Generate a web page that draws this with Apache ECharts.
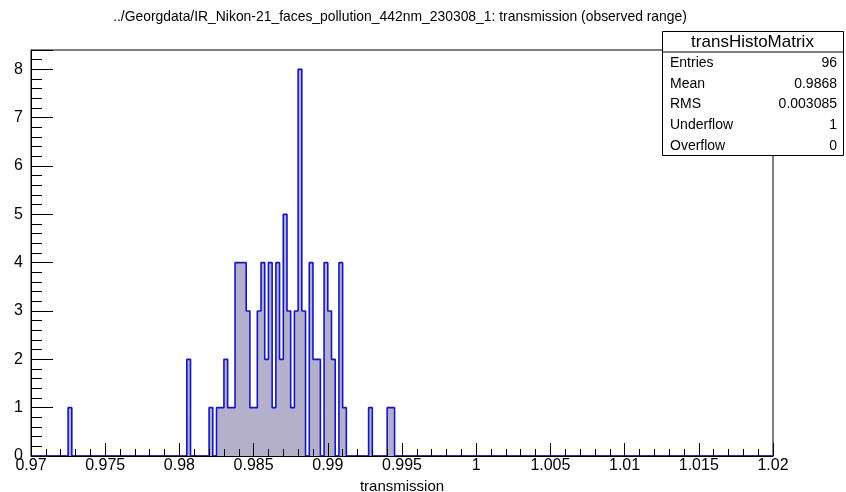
<!DOCTYPE html>
<html>
<head>
<meta charset="utf-8">
<script src="https://cdn.jsdelivr.net/npm/echarts@6/dist/echarts.min.js"></script>
<style>html,body{margin:0;padding:0;background:#fff}#c{width:846px;height:492px}</style>
</head>
<body>
<div id="c"></div>
<script>
// ---- data ----
const xMin = 0.97, xMax = 1.02, nBins = 200;
const filledBins = [10, 42, 48, 50, 51, 52, 53, 54, 55, 56, 57, 58, 59, 60, 61, 62, 63, 64, 65, 66, 67, 68, 69, 70, 71, 72, 73, 75, 76, 77, 79, 80, 81, 83, 84, 91, 96, 97];
const binCounts  = [1,  2,  1,  1,  1,  2,  1,  1,  4,  4,  4,  3,  1,  1,  3,  4,  2,  4,  1,  4,  2,  5,  3,  1,  3,  8,  3,  4,  2,  2,  4,  3,  2,  4,  1,  1,  1,  1];
const xTickLabels = ['0.97','0.975','0.98','0.985','0.99','0.995','1','1.005','1.01','1.015','1.02'];
const yTickLabels = ['0','1','2','3','4','5','6','7','8'];
const titleText = '../Georgdata/IR_Nikon-21_faces_pollution_442nm_230308_1: transmission (observed range)';
const statsName = 'transHistoMatrix';
const statsLabels = ['Entries', 'Mean', 'RMS', 'Underflow', 'Overflow'];
const statsValues = ['96', '0.9868', '0.003085', '1', '0'];

// build step points from bin edges
const counts = new Array(nBins).fill(0);
filledBins.forEach((b, i) => { counts[b] = binCounts[i]; });
const bw = (xMax - xMin) / nBins;
const stepData = [];
for (let i = 0; i < nBins; i++) stepData.push([xMin + i * bw, counts[i]]);
stepData.push([xMax, 0]);

const FONT = '"Liberation Sans", Arial, Helvetica, sans-serif';
const chart = echarts.init(document.getElementById('c'), null, {renderer: 'canvas'});

const boxL = 662, boxT = 31, boxR = 843, boxB = 155, sepY = 51.5;
const rowH = 20.6;
const graphics = [
  {type: 'text', style: {text: titleText, x: 400, y: 17, fill: '#000', font: '13.9px ' + FONT, textAlign: 'center', textVerticalAlign: 'middle'}, z: 100},
  {type: 'rect', shape: {x: boxL + 0.5, y: boxT + 0.5, width: boxR - boxL, height: boxB - boxT}, style: {fill: '#fff', stroke: '#000', lineWidth: 1}, z: 100},
  {type: 'line', shape: {x1: boxL, y1: sepY + 0.5, x2: boxR, y2: sepY + 0.5}, style: {stroke: '#000', lineWidth: 1}, z: 101},
  {type: 'text', style: {text: statsName, x: (boxL + boxR) / 2, y: (boxT + sepY) / 2 + 1, fill: '#000', font: '17px ' + FONT, textAlign: 'center', textVerticalAlign: 'middle'}, z: 102}
];
statsLabels.forEach((lab, i) => {
  const y = sepY + rowH * (i + 0.5) + 1.5;
  graphics.push({type: 'text', style: {text: lab, x: boxL + 8, y: y, fill: '#000', font: '14px ' + FONT, textAlign: 'left', textVerticalAlign: 'middle'}, z: 102});
  graphics.push({type: 'text', style: {text: statsValues[i], x: boxR - 6, y: y, fill: '#000', font: '14px ' + FONT, textAlign: 'right', textVerticalAlign: 'middle'}, z: 102});
});

chart.setOption({
  animation: false,
  backgroundColor: '#fff',
  textStyle: {fontFamily: FONT},
  grid: {left: 31, right: 73, top: 50, bottom: 36, outerBoundsMode: 'none', containLabel: false,
    show: true, borderColor: '#000', borderWidth: 1, backgroundColor: 'transparent'},
  xAxis: {
    type: 'value', min: xMin, max: xMax, interval: 0.005, z: 5,
    name: 'transmission', nameLocation: 'middle', nameGap: 19,
    nameTextStyle: {fontSize: 15, color: '#000', fontFamily: FONT},
    axisLine: {show: true, onZero: false, lineStyle: {color: '#000', width: 1}},
    axisTick: {show: true, inside: true, length: 13, lineStyle: {color: '#000', width: 1}},
    minorTick: {show: true, splitNumber: 5, length: 7, lineStyle: {color: '#000', width: 1}},
    splitLine: {show: false},
    axisLabel: {margin: 2, fontSize: 16, color: '#000', fontFamily: FONT,
      formatter: v => { const k = Math.round((v - xMin) / 0.005); return xTickLabels[k] !== undefined ? xTickLabels[k] : ''; }}
  },
  yAxis: {
    type: 'value', min: 0, max: 8.4, interval: 1, z: 5,
    axisLine: {show: true, lineStyle: {color: '#000', width: 1}},
    axisTick: {show: true, inside: true, length: 22, lineStyle: {color: '#000', width: 1}},
    minorTick: {show: true, splitNumber: 5, length: 11, lineStyle: {color: '#000', width: 1}},
    splitLine: {show: false},
    axisLabel: {margin: 8, fontSize: 16, color: '#000', fontFamily: FONT,
      formatter: v => { const k = Math.round(v); return (Math.abs(v - k) < 1e-6 && yTickLabels[k] !== undefined) ? yTickLabels[k] : ''; }}
  },
  series: [{
    type: 'line', step: 'end', data: stepData, symbol: 'none', z: 2,
    lineStyle: {color: '#1616c0', width: 1.6},
    areaStyle: {color: '#b4b0cb', opacity: 1, origin: 'start'}
  }],
  graphic: graphics
});
</script>
</body>
</html>
